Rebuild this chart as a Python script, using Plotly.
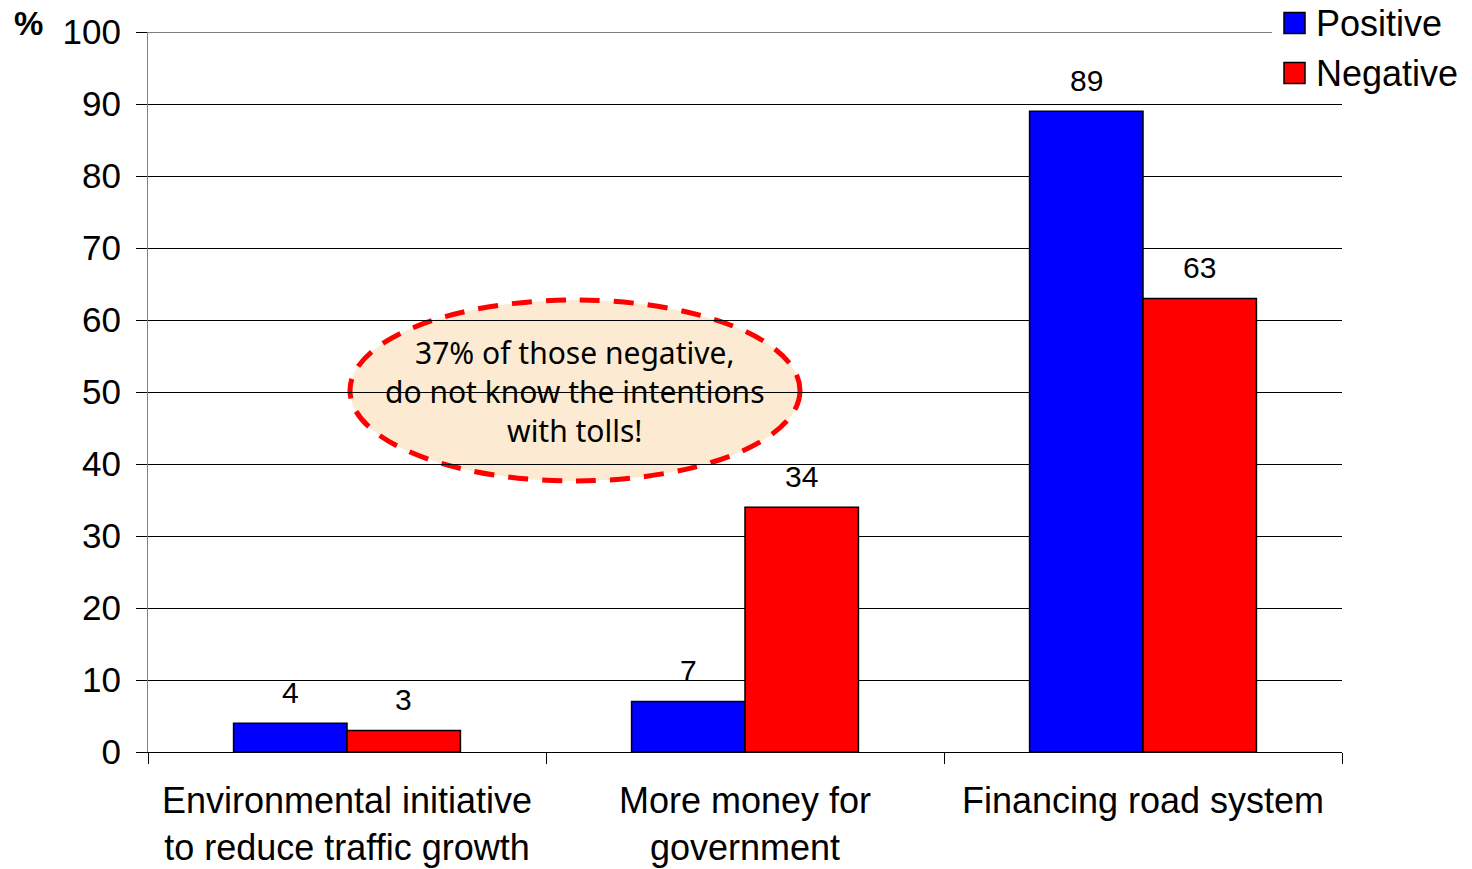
import plotly.graph_objects as go

# Survey: what people think road tolls are for
categories = [
    "Environmental initiative<br>to reduce traffic growth",
    "More money for<br>government",
    "Financing road system",
]
series_names = ["Positive", "Negative"]
positive = [4, 7, 89]
negative = [3, 34, 63]
series_values = [positive, negative]
series_colors = ["#0000FF", "#FF0000"]
y_ticks = [0, 10, 20, 30, 40, 50, 60, 70, 80, 90, 100]
callout_text = "37% of those negative,<br>do not know the intentions<br>with tolls!"

FONT = "Liberation Sans, Arial, sans-serif"
W, H = 1472, 869
ML, MR, MT, MB = 148, 130, 32, 117
PW, PH = W - ML - MR, H - MT - MB


def px_x(x):
    return (x - ML) / PW


def px_y(y):
    return (H - MB - y) / PH


BARGAP = 0.43
bar_w = (1 - BARGAP) / len(series_names)

fig = go.Figure()
for name, vals, col in zip(series_names, series_values, series_colors):
    fig.add_trace(go.Bar(
        x=categories, y=vals, name=name,
        marker=dict(color=col, line=dict(color="black", width=1.5)),
        showlegend=False,
    ))

annotations = []
# value labels above each bar
for k, vals in enumerate(series_values):
    offset = (k - (len(series_names) - 1) / 2) * bar_w
    for i, v in enumerate(vals):
        annotations.append(dict(
            x=i + offset, y=v, xref="x", yref="y", text=str(v),
            showarrow=False, yanchor="middle", yshift=31,
            font=dict(family=FONT, size=30, color="black"),
        ))

# axis unit marker
annotations.append(dict(
    x=px_x(28), y=px_y(23), xref="paper", yref="paper", text="<b>%</b>",
    showarrow=False, xanchor="center", yanchor="middle",
    font=dict(family=FONT, size=33, color="black"),
))

# callout text
annotations.append(dict(
    x=px_x(575), y=px_y(391), xref="paper", yref="paper", text=callout_text,
    showarrow=False, xanchor="center", yanchor="middle", align="center",
    font=dict(family="Noto Sans", size=30, color="black"),
))

shapes = [
    # callout ellipse behind the gridlines
    dict(type="circle", xref="paper", yref="paper", layer="below",
         x0=px_x(350), x1=px_x(800), y0=px_y(481), y1=px_y(300),
         fillcolor="#FCEBD2",
         line=dict(color="#FF0000", width=5, dash="20px,14px")),
    # top gridline at 100
    dict(type="line", xref="paper", yref="y", layer="below",
         x0=0, x1=1, y0=100, y1=100, line=dict(color="black", width=1)),
    # legend background
    dict(type="rect", xref="paper", yref="paper", layer="above",
         x0=px_x(1272), x1=px_x(1472), y0=px_y(96), y1=px_y(0),
         fillcolor="white", line=dict(width=0)),
]

# legend entries
legend_rows = [23, 73]
for name, col, cy in zip(series_names, series_colors, legend_rows):
    shapes.append(dict(
        type="rect", xref="paper", yref="paper", layer="above",
        x0=px_x(1284), x1=px_x(1305), y0=px_y(cy + 10.5), y1=px_y(cy - 10.5),
        fillcolor=col, line=dict(color="black", width=1.5),
    ))
    annotations.append(dict(
        x=px_x(1314), y=px_y(cy), xref="paper", yref="paper", text=name,
        showarrow=False, xanchor="left", yanchor="middle",
        font=dict(family=FONT, size=36, color="black"),
    ))

fig.update_layout(
    width=W, height=H,
    margin=dict(l=ML, r=MR, t=MT, b=MB, pad=0),
    paper_bgcolor="white", plot_bgcolor="white",
    barmode="group", bargap=BARGAP, bargroupgap=0,
    showlegend=False,
    shapes=shapes, annotations=annotations,
    font=dict(family=FONT, color="black"),
)
fig.update_xaxes(
    type="category", range=[-0.5, len(categories) - 0.5], automargin=False,
    tickson="boundaries", ticks="outside", ticklen=11, tickcolor="black",
    ticklabelstandoff=17,
    showline=True, linecolor="black", linewidth=1,
    showgrid=False, zeroline=False,
    tickfont=dict(family=FONT, size=36, color="black"),
)
fig.update_yaxes(
    range=[0, 100], tickvals=y_ticks, automargin=False,
    ticks="outside", ticklen=11, tickcolor="black",
    ticklabelstandoff=8,
    showline=True, linecolor="#808080", linewidth=1,
    showgrid=True, gridcolor="black", gridwidth=1,
    zeroline=False,
    tickfont=dict(family=FONT, size=35, color="black"),
)

fig.write_html("out.html")
